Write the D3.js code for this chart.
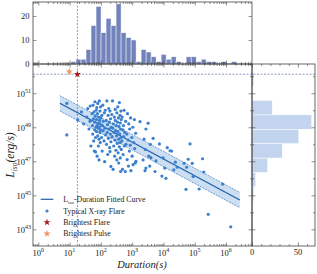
<!DOCTYPE html>
<html>
<head>
<meta charset="utf-8">
<script src="https://cdn.jsdelivr.net/npm/d3@7"></script>
<style>
  body { margin: 0; background: #fff; }
  text { font-family: "Liberation Serif", "Times New Roman", serif; fill: #222; }
</style>
</head>
<body>
<div id="chart"></div>
<script>
// typical X-ray flares: [log10 duration (s), log10 L_iso (erg/s)]
const flarePoints = [
  [0.91,50.41],[0.91,48.55],[1.26,49.43],[1.38,49.9],[1.45,49.2],
  [1.55,49.6],[1.58,50.1],[1.62,48.9],[1.65,49.35],[1.68,47.9],[1.66,50.25],
  [1.72,49.8],[1.73,49.1],[1.74,48.6],[1.75,50.3],[1.76,49.5],[1.77,48.2],[1.78,49.9],[1.79,47.6],
  [1.80,49.3],[1.80,48.85],[1.81,50.5],[1.82,49.65],[1.83,47.55],[1.83,48.4],[1.84,49.0],[1.85,50.0],
  [1.86,49.45],[1.86,48.75],[1.87,50.15],[1.88,49.1],[1.88,47.3],[1.89,49.8],[1.90,48.5],[1.90,50.4],
  [1.91,49.25],[1.92,48.95],[1.92,47.9],[1.93,49.6],[1.94,47.08],[1.94,48.3],[1.95,50.55],[1.95,49.0],
  [1.96,49.4],[1.97,48.7],[1.97,49.95],[1.98,48.1],[1.98,49.2],[1.99,50.2],[1.99,48.85],[2.0,49.55],
  [2.02,48.4],[2.03,49.7],[2.04,47.6],[2.05,49.1],[2.06,50.3],[2.07,48.8],[2.08,49.35],[2.10,48.2],
  [2.11,49.85],[2.12,46.98],[2.13,48.95],[2.14,50.0],[2.15,48.55],
  [2.17,49.4],[2.18,48.0],[2.19,50.55],[2.20,48.7],[2.21,49.15],[2.22,47.4],[2.23,49.7],[2.24,48.35],
  [2.25,50.1],[2.26,48.9],[2.27,49.3],[2.28,47.8],[2.29,47.57],[2.29,49.95],[2.30,48.6],[2.31,49.5],
  [2.32,48.15],[2.32,46.7],[2.33,49.0],
  [2.35,49.75],[2.36,48.45],[2.37,50.55],[2.38,48.95],[2.39,46.53],[2.40,49.2],[2.41,47.9],[2.42,48.7],
  [2.43,49.6],[2.44,47.3],[2.45,48.25],[2.46,50.05],[2.46,49.4],[2.47,48.8],[2.48,47.65],[2.49,49.1],
  [2.50,48.5],[2.51,49.85],[2.51,47.08],[2.52,48.05],[2.53,49.3],[2.54,50.2],[2.54,48.75],[2.55,47.5],
  [2.56,49.55],[2.57,48.3],[2.57,46.9],[2.58,49.05],[2.59,50.45],[2.59,47.85],[2.60,48.6],[2.61,49.7],
  [2.61,48.1],[2.62,47.2],[2.62,49.25],[2.63,48.9],[2.63,46.4],[2.64,49.95],[2.64,48.4],[2.65,47.7],[2.65,49.45],
  [2.67,48.2],[2.68,49.6],[2.69,46.53],[2.70,48.85],[2.71,47.4],[2.72,49.1],[2.73,48.45],[2.74,50.0],
  [2.75,47.9],[2.76,48.7],[2.78,46.4],[2.79,49.35],[2.80,48.0],
  [2.83,48.6],[2.84,47.1],[2.85,49.8],[2.87,48.25],[2.88,46.72],[2.89,49.2],[2.91,47.6],[2.92,48.9],
  [2.94,47.95],[2.95,49.55],[2.96,46.45],
  [2.99,48.4],[3.00,47.3],[3.02,49.0],[3.03,46.8],[3.05,48.1],[3.07,49.45],[3.08,47.75],[3.10,46.9],
  [3.11,48.65],[3.12,47.0],[3.25,49.33],
  [3.35,47.08],[3.38,48.3],[3.41,46.45],[3.42,47.7],[3.44,48.9],[3.44,46.6],
  [3.51,49.24],[3.53,47.3],[3.56,46.72],[3.58,48.0],[3.60,47.21],
  [3.67,48.35],[3.73,46.4],[3.76,47.02],[3.87,48.02],
  [3.95,46.13],[3.99,47.2],[4.04,46.6],[4.08,46.0],[4.12,47.8],[4.21,47.62],
  [4.26,47.6],[4.33,46.5],[4.38,46.95],[4.44,46.65],[4.66,46.88],[4.72,45.35],
  [4.74,46.65],[4.79,47.12],[4.85,48.02],[4.92,46.88],[4.95,46.1],
  [5.14,45.37],[5.25,47.15],[5.29,46.37],[5.43,43.88],[5.89,45.66],[6.15,43.15]
];

const brightestFlare = [1.25, 52.12];
const brightestPulse = [0.99, 52.27];

// fitted L_iso - duration relation and its band (log10 values)
const fitLogT   = [0.69, 6.44];
const fitLogL   = [50.41, 44.72];
const bandUpper = [50.86, 45.17];
const bandLower = [49.96, 44.27];

// duration histogram (log10 bins)
const durBinStart = 1.045;
const durBinWidth = 0.16;
const durCounts = [1,2,2,6,16,24,13,19,16,25,13,11,10,1,6,5,3,1,4,2,3,1,0,3,3,1,2,1,1,0,1,0,1];

// luminosity histogram (log10 bins, bottom to top)
const lumBinStart = 42.96;
const lumBinWidth = 0.8464;
const lumCounts = [1,1,2,4,17,33,51,65,22,0,2];

const xTickExps = [0,1,2,3,4,5,6];
const yTickExps = [43,45,47,49,51];
const topTicks = [0,10,20];
const rightTicks = [0,50];

const width = 317, height = 274;
const main = {left: 33, right: 252, top: 64, bottom: 246};
const topTop = 2;
const rightRight = 315;
const axisColor = '#444';

const svg = d3.select('#chart').append('svg')
  .attr('width', width).attr('height', height);

const x = d3.scaleLog().domain([10 ** -0.17, 10 ** 6.83]).range([main.left, main.right]);
const y = d3.scaleLog().domain([10 ** 42.02, 10 ** 52.72]).range([main.bottom, main.top]);
const yTop = d3.scaleLinear().domain([0, 25.8]).range([main.top, topTop]);
const xRight = d3.scaleLinear().domain([0, 68.6]).range([main.right, rightRight]);

// top histogram
svg.append('g').selectAll('rect').data(durCounts).join('rect')
  .attr('x', (d, i) => x(10 ** (durBinStart + i * durBinWidth)))
  .attr('width', (d, i) => x(10 ** (durBinStart + (i + 1) * durBinWidth)) - x(10 ** (durBinStart + i * durBinWidth)))
  .attr('y', d => yTop(d))
  .attr('height', d => yTop(0) - yTop(d))
  .attr('fill', '#7282bb')
  .attr('stroke', '#fff').attr('stroke-width', 0.5);

// right histogram
svg.append('g').selectAll('rect').data(lumCounts).join('rect')
  .attr('x', xRight(0))
  .attr('y', (d, i) => y(10 ** (lumBinStart + (i + 1) * lumBinWidth)))
  .attr('height', (d, i) => y(10 ** (lumBinStart + i * lumBinWidth)) - y(10 ** (lumBinStart + (i + 1) * lumBinWidth)))
  .attr('width', d => xRight(d) - xRight(0))
  .attr('fill', '#c3d5ee')
  .attr('stroke', '#fff').attr('stroke-width', 0.5);

// fitted band and line
const bandData = fitLogT.map((t, i) => ({t, lo: bandLower[i], hi: bandUpper[i], c: fitLogL[i]}));
svg.append('path').datum(bandData)
  .attr('d', d3.area().x(d => x(10 ** d.t)).y0(d => y(10 ** d.lo)).y1(d => y(10 ** d.hi)))
  .attr('fill', '#c2d8f0').attr('opacity', 0.85);
['lo', 'hi'].forEach(k => {
  svg.append('path').datum(bandData)
    .attr('d', d3.line().x(d => x(10 ** d.t)).y(d => y(10 ** d[k])))
    .attr('fill', 'none').attr('stroke', '#3a78c2').attr('stroke-width', 0.7)
    .attr('stroke-dasharray', '2,1');
});
svg.append('path').datum(bandData)
  .attr('d', d3.line().x(d => x(10 ** d.t)).y(d => y(10 ** d.c)))
  .attr('fill', 'none').attr('stroke', '#1f5ea8').attr('stroke-width', 1.2);

// scatter
svg.append('g').selectAll('circle').data(flarePoints).join('circle')
  .attr('cx', d => x(10 ** d[0]))
  .attr('cy', d => y(10 ** d[1]))
  .attr('r', 1.6)
  .attr('fill', '#3a80cf');

// dashed guide lines through the brightest flare
const guideColor = '#5d6db0';
svg.append('line')
  .attr('x1', x(10 ** brightestFlare[0])).attr('x2', x(10 ** brightestFlare[0]))
  .attr('y1', topTop).attr('y2', main.bottom)
  .attr('stroke', guideColor).attr('stroke-width', 0.7).attr('stroke-dasharray', '2,1.5');
svg.append('line')
  .attr('x1', main.left).attr('x2', rightRight)
  .attr('y1', y(10 ** brightestFlare[1])).attr('y2', y(10 ** brightestFlare[1]))
  .attr('stroke', guideColor).attr('stroke-width', 0.7).attr('stroke-dasharray', '2,1.5');

// stars
const star = d3.symbol().type(d3.symbolStar).size(16);
svg.append('path').attr('d', star)
  .attr('transform', `translate(${x(10 ** brightestPulse[0])},${y(10 ** brightestPulse[1])})`)
  .attr('fill', '#f2925c');
svg.append('path').attr('d', star)
  .attr('transform', `translate(${x(10 ** brightestFlare[0])},${y(10 ** brightestFlare[1])})`)
  .attr('fill', '#a51b1f');

// frames
function frame(x0, y0, x1, y1) {
  svg.append('rect').attr('x', x0).attr('y', y0).attr('width', x1 - x0).attr('height', y1 - y0)
    .attr('fill', 'none').attr('stroke', axisColor).attr('stroke-width', 0.8);
}
frame(main.left, topTop, main.right, main.top);
frame(main.left, main.top, main.right, main.bottom);
frame(main.right, main.top, rightRight, main.bottom);

// ticks (pointing inward)
function ticks(axisFn, scale, values, size, tx, ty) {
  svg.append('g').attr('transform', `translate(${tx},${ty})`)
    .call(axisFn(scale).tickValues(values).tickSize(size).tickFormat(''))
    .call(g => g.select('.domain').remove())
    .selectAll('line').attr('stroke', axisColor).attr('stroke-width', 0.6);
}
const xMajor = xTickExps.map(e => 10 ** e);
const xMinor = [];
for (let e = -1; e <= 6; e++) for (let m = 2; m <= 9; m++) {
  const v = m * 10 ** e;
  if (v > x.domain()[0] && v < x.domain()[1]) xMinor.push(v);
}
[[d3.axisBottom, main.bottom], [d3.axisTop, main.top], [d3.axisBottom, main.top], [d3.axisTop, topTop]].forEach(([fn, yy]) => {
  ticks(fn, x, xMajor, -3.5, 0, yy);
  ticks(fn, x, xMinor, -2, 0, yy);
});
const yMajor = yTickExps.map(e => 10 ** e);
const yMinor = [44, 46, 48, 50, 52].map(e => 10 ** e);
[[d3.axisLeft, main.left], [d3.axisRight, main.right], [d3.axisLeft, main.right], [d3.axisRight, rightRight]].forEach(([fn, xx]) => {
  ticks(fn, y, yMajor, -3.5, xx, 0);
  ticks(fn, y, yMinor, -2, xx, 0);
});
[[d3.axisLeft, main.left], [d3.axisRight, main.right]].forEach(([fn, xx]) => ticks(fn, yTop, topTicks, -3.5, xx, 0));
[[d3.axisBottom, main.bottom], [d3.axisTop, main.top]].forEach(([fn, yy]) => {
  ticks(fn, xRight, rightTicks, -3.5, 0, yy);
  ticks(fn, xRight, [10, 20, 30, 40, 60], -2, 0, yy);
});

// tick labels
const tickFont = 8.5;
xTickExps.forEach(e => {
  const t = svg.append('text').attr('x', x(10 ** e)).attr('y', 256)
    .attr('text-anchor', 'middle').attr('font-size', tickFont).text('10');
  t.append('tspan').attr('dy', -4).attr('font-size', 6).text(e);
});
yTickExps.forEach(e => {
  const t = svg.append('text').attr('x', 31).attr('y', y(10 ** e) + 4)
    .attr('text-anchor', 'end').attr('font-size', tickFont).text('10');
  t.append('tspan').attr('dy', -4).attr('font-size', 6).text(e);
});
topTicks.forEach(v => {
  svg.append('text').attr('x', 29.5).attr('y', yTop(v) + 3)
    .attr('text-anchor', 'end').attr('font-size', tickFont).text(v);
});
rightTicks.forEach(v => {
  svg.append('text').attr('x', xRight(v)).attr('y', 255)
    .attr('text-anchor', 'middle').attr('font-size', tickFont).text(v);
});

// axis titles
svg.append('text').attr('x', 142).attr('y', 268).attr('text-anchor', 'middle')
  .attr('font-size', 10.5).attr('font-style', 'italic').text('Duration(s)');
const yl = svg.append('text').attr('transform', `translate(14,${(main.top + main.bottom) / 2}) rotate(-90)`)
  .attr('text-anchor', 'middle').attr('font-size', 11.5).attr('font-style', 'italic');
yl.append('tspan').text('L');
yl.append('tspan').attr('font-size', 7.5).attr('dy', 2.5).text('iso');
yl.append('tspan').attr('dy', -2.5).text('(erg/s)');

// legend
const legendX = 40.7, legendTextX = 63.3;
const legendRows = [199.3, 211, 222.3, 233.7];
const legendFont = 7.8;
svg.append('line').attr('x1', legendX).attr('x2', legendX + 12.6)
  .attr('y1', legendRows[0]).attr('y2', legendRows[0])
  .attr('stroke', '#1f5ea8').attr('stroke-width', 1.2);
svg.append('circle').attr('cx', legendX + 6.3).attr('cy', legendRows[1]).attr('r', 1.6).attr('fill', '#3a80cf');
svg.append('path').attr('d', star).attr('transform', `translate(${legendX + 6.3},${legendRows[2]})`).attr('fill', '#a51b1f');
svg.append('path').attr('d', star).attr('transform', `translate(${legendX + 6.3},${legendRows[3]})`).attr('fill', '#f2925c');
const l0 = svg.append('text').attr('x', legendTextX).attr('y', legendRows[0] + 2.7).attr('font-size', legendFont);
l0.append('tspan').text('L');
l0.append('tspan').attr('font-size', 5).attr('dy', 1.5).text('iso');
l0.append('tspan').attr('dy', -1.5).text('-Duration Fitted Curve');
['Typical X-ray Flare', 'Brightest Flare', 'Brightest Pulse'].forEach((s, i) => {
  svg.append('text').attr('x', legendTextX).attr('y', legendRows[i + 1] + 2.7)
    .attr('font-size', legendFont).text(s);
});
</script>
</body>
</html>
